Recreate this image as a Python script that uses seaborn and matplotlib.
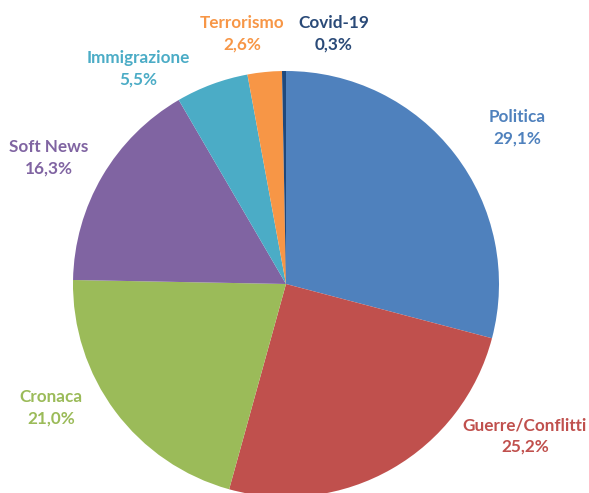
import matplotlib
matplotlib.use("Agg")
import matplotlib.pyplot as plt
import seaborn as sns

# Share of news coverage by topic
topics = ["Politica", "Guerre/Conflitti", "Cronaca", "Soft News",
          "Immigrazione", "Terrorismo", "Covid-19"]
shares = [29.1, 25.2, 21.0, 16.3, 5.5, 2.6, 0.3]

colors = ["#4F81BD", "#C0504D", "#9BBB59", "#8064A2",
          "#4BACC6", "#F79646", "#1F497D"]
text_colors = ["#4F81BD", "#C0504D", "#9BBB59", "#8064A2",
               "#4BACC6", "#F79646", "#2A4A78"]

# label anchor points (pie radius = 1, centre at origin)
label_pos = [(1.085, 0.732), (1.122, -0.714), (-1.103, -0.582), (-1.113, 0.594),
             (-0.695, 1.009), (-0.207, 1.174), (0.225, 1.174)]

sns.set_theme(style="white")
plt.rcParams["font.family"] = ["Lato", "DejaVu Sans"]

fig = plt.figure(figsize=(5.89, 4.93), dpi=100)
ax = fig.add_axes([0, 0, 1, 1])
palette = sns.color_palette(colors)

ax.pie(shares, colors=palette, startangle=90, counterclock=False,
       radius=1.0, center=(0, 0), wedgeprops=dict(linewidth=0))

for name, val, (x, y), c in zip(topics, shares, label_pos, text_colors):
    txt = f"{name}\n{val:.1f}%".replace(".", ",")
    ax.text(x, y, txt, ha="center", va="center", color=c,
            fontsize=12.3, fontweight="bold", linespacing=1.45)

ax.set_xlim(-286 / 213, 303 / 213)
ax.set_ylim(-209 / 213, 284 / 213)
ax.set_aspect("equal")
ax.axis("off")

fig.savefig("out.png", dpi=100, facecolor="white")
